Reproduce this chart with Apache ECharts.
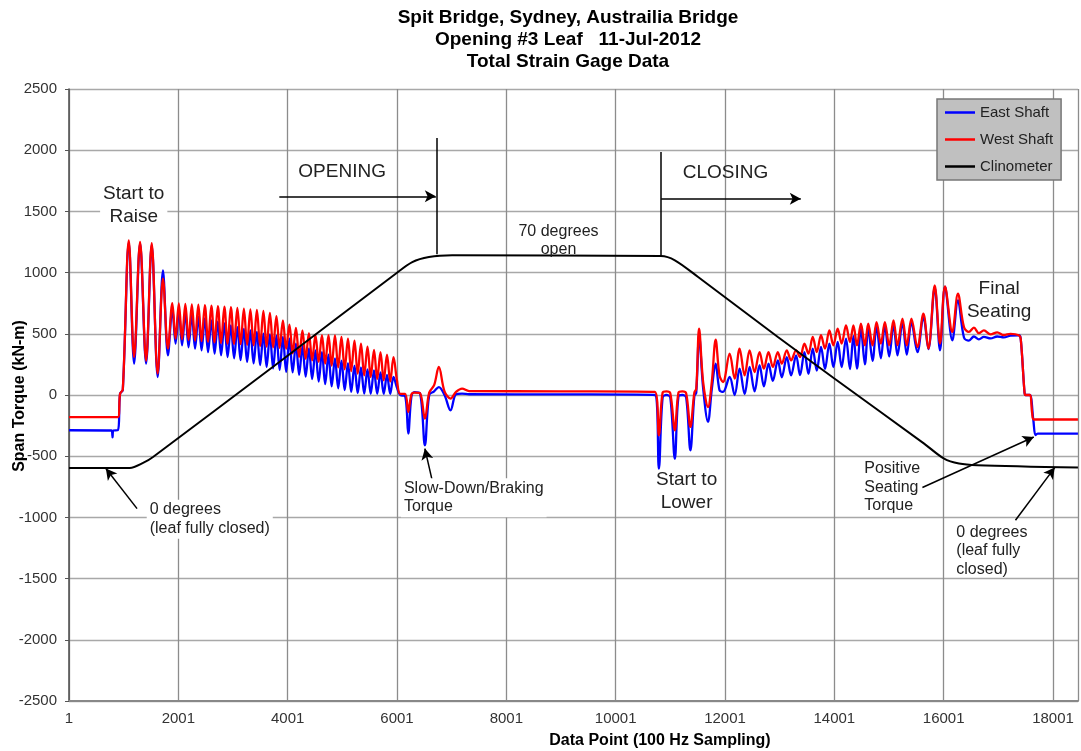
<!DOCTYPE html>
<html><head><meta charset="utf-8">
<script src="https://cdn.jsdelivr.net/npm/echarts@6/dist/echarts.min.js"></script>
<style>html,body{margin:0;padding:0;background:#fff}#c{width:1081px;height:751px}</style>
</head><body><div id="c"></div>
<script>
// ---------- text ----------
const titleLines = ['Spit Bridge, Sydney, Austrailia Bridge', 'Opening #3 Leaf   11-Jul-2012', 'Total Strain Gage Data'];
const xAxisTitle = 'Data Point (100 Hz Sampling)';
const yAxisTitle = 'Span Torque (kN-m)';
const seriesNames = ['East Shaft', 'West Shaft', 'Clinometer'];
const xTickLabels = ['1', '2001', '4001', '6001', '8001', '10001', '12001', '14001', '16001', '18001'];
const yTickValues = [-2500, -2000, -1500, -1000, -500, 0, 500, 1000, 1500, 2000, 2500];

// ---------- data: [data point, kN-m] ----------
const eastRaise = [[1,-288],[780,-290],[797,-345],[812,-290],[895,-288],[935,10],[985,40],[1095,1245],[1192,256],[1301,1240],[1411,256],[1514,1225],[1623,147],[1720,1018],[1811,324]];
const eastOpen = [[1891,705],[1950,420],[2010,690],[2069,405],[2129,675],[2188,390],[2248,660],[2307,379],[2367,640],[2426,365],[2486,625],[2545,350],[2605,610],[2664,338],[2724,600],[2783,325],[2843,585],[2902,310],[2962,569],[3021,300],[3081,555],[3140,285],[3200,540],[3259,270],[3319,528],[3378,258],[3438,515],[3497,245],[3557,501],[3616,230],[3676,495],[3735,218],[3795,485],[3854,205],[3914,474],[3973,190],[4033,460],[4092,185],[4152,420],[4211,165],[4271,400],[4330,150],[4390,380],[4449,130],[4509,365],[4568,110],[4628,350],[4687,90],[4747,330],[4806,70],[4866,300],[4925,55],[4985,280],[5044,40],[5104,260],[5163,25],[5223,240],[5282,15],[5342,225],[5401,11],[5461,210],[5520,10],[5580,200],[5639,10],[5699,185],[5758,10],[5818,165],[5877,10],[5937,147]];
const eastHold = [[6000,60],[6060,0],[6150,-10],[6207,-315],[6265,-10],[6320,24],[6420,15],[6511,-411],[6590,0],[6680,30],[6766,65],[6870,0],[6980,-125],[7080,5],[7191,11],[7320,6],[9000,5],[10718,0]];
const eastLower = [[10791,-601],[10860,-20],[10930,0],[11000,-20],[11083,-520],[11150,-10],[11222,0],[11290,-20],[11368,-452],[11440,-10],[11475,20],[11527,488],[11600,60],[11690,-220],[11760,50],[11830,256],[11900,40],[11964,25]];
const eastClose = [[12086,147],[12177,0],[12268,215],[12360,8],[12451,229],[12542,30],[12633,243],[12712,70],[12797,256],[12876,115],[12967,283],[13040,145],[13131,310],[13210,160],[13301,324],[13374,162],[13454,351],[13527,172],[13606,379],[13679,200],[13757,392],[13830,212],[13910,420],[13983,228],[14062,433],[14135,228],[14214,460],[14287,212],[14350,480],[14415,215],[14487,540],[14560,250],[14621,545],[14700,280],[14773,560],[14852,300],[14925,565],[15004,315],[15083,575],[15156,324],[15247,590],[15326,330],[15411,595],[15521,350],[15630,640],[15721,375],[15837,880],[15934,365],[16025,885],[16159,447],[16262,773]];
const eastSeat = [[16372,470],[16463,445],[16554,478],[16645,455],[16737,475],[16858,462],[16980,478],[17101,470],[17223,485],[17375,488],[17410,460],[17480,20],[17500,0],[17575,0],[17640,-200],[17680,-328],[17720,-315],[18457,-315]];

const westRaise = [[1,-180],[895,-180],[935,10],[985,45],[1095,1263],[1192,310],[1301,1250],[1411,280],[1514,1241],[1623,175],[1720,950],[1811,379]];
const westOpen = [[1891,751],[1950,460],[2010,748],[2069,455],[2129,745],[2188,450],[2248,741],[2307,445],[2367,738],[2426,440],[2486,735],[2545,435],[2605,730],[2664,430],[2724,726],[2783,425],[2843,722],[2902,420],[2962,718],[3021,418],[3081,712],[3140,415],[3200,705],[3259,410],[3319,700],[3378,406],[3438,695],[3497,400],[3557,688],[3616,395],[3676,670],[3735,390],[3795,645],[3854,385],[3914,610],[3973,378],[4033,575],[4092,340],[4152,548],[4211,310],[4271,528],[4330,295],[4390,505],[4449,283],[4509,490],[4568,270],[4628,488],[4687,256],[4747,488],[4806,240],[4866,486],[4925,225],[4985,474],[5044,210],[5104,460],[5163,195],[5223,445],[5282,175],[5342,420],[5401,160],[5461,395],[5520,147],[5580,368],[5639,130],[5699,350],[5758,120],[5818,330],[5877,110],[5937,310]];
const westHold = [[6000,120],[6060,10],[6150,10],[6207,-139],[6265,5],[6320,20],[6420,15],[6511,-193],[6590,20],[6680,80],[6766,229],[6870,30],[6980,-29],[7080,25],[7191,52],[7320,32],[9000,30],[10718,25]];
const westLower = [[10791,-329],[10860,20],[10930,30],[11000,15],[11083,-288],[11150,20],[11222,30],[11290,15],[11368,-261],[11440,20],[11475,50],[11527,542],[11600,110],[11690,-98],[11760,110],[11830,452],[11900,160],[11964,106]];
const westClose = [[12086,338],[12177,134],[12268,379],[12360,161],[12451,365],[12542,188],[12633,351],[12712,215],[12797,351],[12876,229],[12967,351],[13040,256],[13131,365],[13210,283],[13301,365],[13374,310],[13454,420],[13527,338],[13606,474],[13679,351],[13757,488],[13830,379],[13910,528],[13983,406],[14062,542],[14135,420],[14214,569],[14287,433],[14350,569],[14415,406],[14487,583],[14560,406],[14621,583],[14700,406],[14773,596],[14852,420],[14925,596],[15004,406],[15083,610],[15156,406],[15247,624],[15326,406],[15411,624],[15521,392],[15630,665],[15721,379],[15837,896],[15934,420],[16025,888],[16159,515],[16262,828]];
const westSeat = [[16372,555],[16463,515],[16554,550],[16645,505],[16737,528],[16858,495],[16980,512],[17101,490],[17223,500],[17375,488],[17410,460],[17480,20],[17500,0],[17575,0],[17620,-150],[17650,-200],[18457,-200]];

const clinometer = [[1,-596],[1113,-596],[1356,-555],[1538,-506],[3849,270],[5977,991],[6280,1086],[6585,1127],[7010,1141],[10828,1135],[11084,1100],[11509,964],[12968,474],[14001,135],[15643,-397],[16008,-520],[16281,-560],[16615,-574],[18457,-593]];

// ---------- annotation anchors (data point, kN-m) ----------
const guideLines = [
  {from: [6721, 2100], to: [6721, 1150], arrow: false},
  {from: [10828, 1985], to: [10828, 1138], arrow: false},
  {from: [3848, 1623], to: [6711, 1623], arrow: true},
  {from: [10833, 1604], to: [13387, 1604], arrow: true},
  {from: [6644, -697], to: [6511, -438], arrow: true},
  {from: [1246, -928], to: [675, -601], arrow: true},
  {from: [15612, -756], to: [17649, -343], arrow: true},
  {from: [17314, -1023], to: [18032, -593], arrow: true}
];
const notes = [
  {text: 'Start to\nRaise', x: 1185, y: 1553, size: 19, align: 'center', bg: true},
  {text: 'OPENING', x: 4997, y: 1827, size: 19, align: 'center'},
  {text: 'CLOSING', x: 12010, y: 1819, size: 19, align: 'center'},
  {text: '70 degrees\nopen', x: 8955, y: 1263, size: 16, align: 'center'},
  {text: 'Final\nSeating', x: 17016, y: 777, size: 19, align: 'center'},
  {text: 'Slow-Down/Braking\nTorque', x: 6073, y: -840, size: 16, align: 'left', bg: true},
  {text: 'Start to\nLower', x: 11298, y: -790, size: 19, align: 'center'},
  {text: '0 degrees\n(leaf fully closed)', x: 1423, y: -1015, size: 16, align: 'left', bg: true},
  {text: 'Positive\nSeating\nTorque', x: 14548, y: -754, size: 16, align: 'left'},
  {text: '0 degrees\n(leaf fully\nclosed)', x: 16232, y: -1272, size: 16, align: 'left'}
];

// ---------- build ----------
const toAxis = arr => arr.map(([p, v]) => [p - 1, v]);
const east = toAxis([].concat(eastRaise, eastOpen, eastHold, eastLower, eastClose, eastSeat));
const west = toAxis([].concat(westRaise, westOpen, westHold, westLower, westClose, westSeat));
const clino = toAxis(clinometer);
const FONT = '"Liberation Sans", Arial, sans-serif';

const markLineData = guideLines.map(g => [
  {coord: [g.from[0] - 1, g.from[1]], symbol: 'none'},
  {coord: [g.to[0] - 1, g.to[1]], symbol: g.arrow ? 'arrow' : 'none', symbolSize: [9, 11]}
]);

const chart = echarts.init(document.getElementById('c'), null, {width: 1081, height: 751});
const option = {
  animation: false,
  backgroundColor: '#fff',
  grid: {left: 69, right: 0, top: 89, bottom: 50},
  legend: {
    data: seriesNames.map(n => ({name: n, icon: 'rect'})),
    orient: 'vertical',
    left: 937, top: 99,
    padding: [6, 8, 6, 8],
    itemGap: 12,
    itemWidth: 30, itemHeight: 2.5,
    backgroundColor: '#c0c0c0',
    borderColor: '#777', borderWidth: 1.5,
    textStyle: {fontFamily: FONT, fontSize: 15, color: '#222', lineHeight: 15}
  },
  xAxis: {
    type: 'value', min: 0, max: 18457, interval: 2000,
    axisLine: {onZero: false, lineStyle: {color: '#888', width: 2}},
    axisTick: {show: false},
    axisLabel: {
      margin: 10, color: '#333', fontFamily: FONT, fontSize: 15,
      formatter: v => (v % 2000 === 0 && xTickLabels[v / 2000] !== undefined) ? xTickLabels[v / 2000] : ''
    },
    splitLine: {show: true, lineStyle: {color: '#8c8c8c', width: 1.3}}
  },
  yAxis: {
    type: 'value', min: yTickValues[0], max: yTickValues[yTickValues.length - 1], interval: 500,
    axisLine: {show: true, onZero: false, lineStyle: {color: '#555', width: 1.6}},
    axisTick: {show: true, length: 4, lineStyle: {color: '#555'}},
    axisLabel: {margin: 12, color: '#333', fontFamily: FONT, fontSize: 15, formatter: v => String(v)},
    splitLine: {show: true, lineStyle: {color: '#a8a8a8', width: 1.3}}
  },
  series: [
    {name: seriesNames[0], type: 'line', data: east, symbol: 'none', smooth: 0.35,
     lineStyle: {color: '#0000ff', width: 2.3}, itemStyle: {color: '#0000ff'}},
    {name: seriesNames[1], type: 'line', data: west, symbol: 'none', smooth: 0.35,
     lineStyle: {color: '#ff0000', width: 2.3}, itemStyle: {color: '#ff0000'}},
    {name: seriesNames[2], type: 'line', data: clino, symbol: 'none', smooth: 0.3,
     lineStyle: {color: '#000', width: 2}, itemStyle: {color: '#000'},
     markLine: {silent: true, animation: false, label: {show: false},
       lineStyle: {color: '#000', width: 1.5, type: 'solid'},
       emphasis: {disabled: true},
       data: markLineData}}
  ]
};
chart.setOption(option);

const graphics = [];
titleLines.forEach((t, i) => graphics.push({type: 'text', x: 568, y: 18 + i * 22, z: 100,
  style: {text: t, font: 'bold 19px ' + FONT, fill: '#000', align: 'center', verticalAlign: 'middle'}}));
graphics.push({type: 'text', x: 660, y: 741, z: 100,
  style: {text: xAxisTitle, font: 'bold 16px ' + FONT, fill: '#000', align: 'center', verticalAlign: 'middle'}});
graphics.push({type: 'text', x: 20, y: 396, rotation: Math.PI / 2, z: 100,
  style: {text: yAxisTitle, font: 'bold 16px ' + FONT, fill: '#000', align: 'center', verticalAlign: 'middle'}});
notes.forEach(n => {
  const [px, py] = chart.convertToPixel({seriesIndex: 0}, [n.x - 1, n.y]);
  const st = {text: n.text, font: n.size + 'px ' + FONT, fill: '#222', align: n.align, verticalAlign: 'middle',
    lineHeight: n.size === 19 ? 23 : 18.5};
  if (n.bg) { st.backgroundColor = '#fff'; st.padding = [1, 3]; }
  graphics.push({type: 'text', x: px, y: py, z: 100, style: st});
});
chart.setOption({graphic: graphics});
</script></body></html>
